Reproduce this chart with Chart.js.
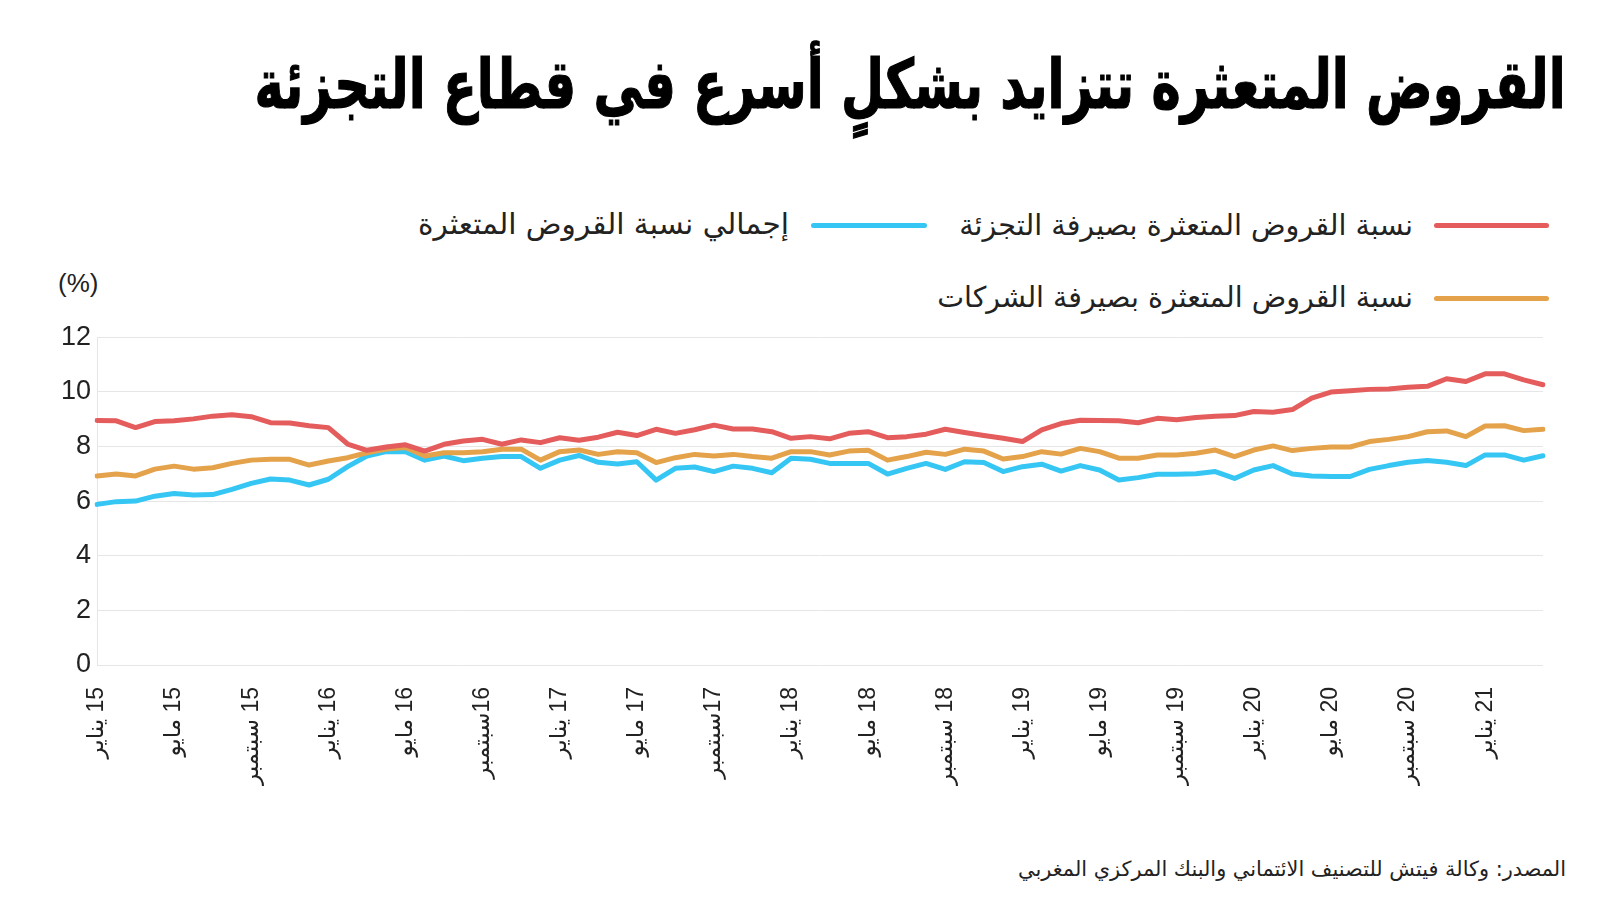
<!DOCTYPE html>
<html lang="ar">
<head>
<meta charset="utf-8">
<title>القروض المتعثرة</title>
<script src="https://cdn.jsdelivr.net/npm/chart.js@4.4.1/dist/chart.umd.min.js"></script>
<style>
  body {
    margin: 0;
    width: 1600px;
    height: 900px;
    position: relative;
    overflow: hidden;
    background: #fff;
    color: #222;
    font-family: "Liberation Sans", "DejaVu Sans", sans-serif;
  }
  .txt {
    position: absolute;
    white-space: nowrap;
    direction: rtl;
    line-height: 1;
    transform: translateY(-50%);
  }
  .title {
    right: 34px; top: 84px;
    font: bold 68px "DejaVu Sans", sans-serif;
    color: #000;
    -webkit-text-stroke: 1.2px #000;
    transform-origin: right center;
  }
  .leg { font-size: 26px; font-family: "DejaVu Sans", sans-serif; }
  .line { position: absolute; height: 5px; border-radius: 3px; }
  .unit { position: absolute; left: 58px; top: 283px; font-size: 26px; line-height: 1; transform: translateY(-50%); }
  .source { right: 34px; top: 869px; font-size: 19px; font-family: "DejaVu Sans", sans-serif; }
  #wrap { position: absolute; left: 0; top: 315px; width: 1600px; height: 485px; }
  canvas { direction: rtl; }
</style>
</head>
<body>
<div class="txt title" id="title">القروض المتعثرة تتزايد بشكلٍ أسرع في قطاع التجزئة</div>

<div class="line" style="left:1434px; top:223px; width:115px; background:#e45c5c"></div>
<div class="txt leg" id="leg1" style="right:187px; top:225px">نسبة القروض المتعثرة بصيرفة التجزئة</div>
<div class="line" style="left:811px; top:223px; width:116px; background:#35c6f4"></div>
<div class="txt leg" id="leg2" style="right:811px; top:225px">إجمالي نسبة القروض المتعثرة</div>
<div class="line" style="left:1434px; top:296px; width:115px; background:#e4a24b"></div>
<div class="txt leg" id="leg3" style="right:187px; top:298px">نسبة القروض المتعثرة بصيرفة الشركات</div>

<div class="unit">(%)</div>

<div id="wrap"><canvas id="chart" width="1600" height="485"></canvas></div>

<div class="txt source" id="source">المصدر: وكالة فيتش للتصنيف الائتماني والبنك المركزي المغربي</div>

<script>
// monthly, Jan 2015 - Apr 2021
const months = [
  "2015-01", "2015-02", "2015-03", "2015-04", "2015-05", "2015-06", "2015-07", "2015-08", "2015-09", "2015-10", "2015-11", "2015-12",
  "2016-01", "2016-02", "2016-03", "2016-04", "2016-05", "2016-06", "2016-07", "2016-08", "2016-09", "2016-10", "2016-11", "2016-12",
  "2017-01", "2017-02", "2017-03", "2017-04", "2017-05", "2017-06", "2017-07", "2017-08", "2017-09", "2017-10", "2017-11", "2017-12",
  "2018-01", "2018-02", "2018-03", "2018-04", "2018-05", "2018-06", "2018-07", "2018-08", "2018-09", "2018-10", "2018-11", "2018-12",
  "2019-01", "2019-02", "2019-03", "2019-04", "2019-05", "2019-06", "2019-07", "2019-08", "2019-09", "2019-10", "2019-11", "2019-12",
  "2020-01", "2020-02", "2020-03", "2020-04", "2020-05", "2020-06", "2020-07", "2020-08", "2020-09", "2020-10", "2020-11", "2020-12",
  "2021-01", "2021-02", "2021-03", "2021-04",
];

// one label every 4 months
const tickLabels = [
  "15 يناير", "15 مايو", "15 سبتمبر",
  "16 يناير", "16 مايو", "16سبتمبر",
  "17 يناير", "17 مايو", "17سبتمبر",
  "18 يناير", "18 مايو", "18 سبتمبر",
  "19 يناير", "19 مايو", "19 سبتمبر",
  "20 يناير", "20 مايو", "20 سبتمبر",
  "21 يناير",
];

const retail = [
  8.95, 8.94, 8.69, 8.91, 8.94, 9.01, 9.11, 9.16, 9.09, 8.87, 8.86, 8.76,
  8.69, 8.09, 7.86, 7.98, 8.06, 7.83, 8.08, 8.20, 8.26, 8.08, 8.24, 8.14,
  8.32, 8.23, 8.34, 8.52, 8.40, 8.63, 8.48, 8.61, 8.78, 8.64, 8.64, 8.54,
  8.30, 8.36, 8.28, 8.48, 8.54, 8.32, 8.36, 8.45, 8.63, 8.51, 8.40, 8.30,
  8.18, 8.61, 8.84, 8.96, 8.95, 8.94, 8.87, 9.03, 8.98, 9.06, 9.11, 9.13,
  9.28, 9.25, 9.35, 9.77, 9.99, 10.04, 10.09, 10.10, 10.17, 10.20, 10.48, 10.38,
  10.66, 10.66, 10.44, 10.26,
];

const total = [
  5.88, 5.98, 6.00, 6.18, 6.28, 6.22, 6.24, 6.43, 6.65, 6.81, 6.77, 6.59,
  6.80, 7.26, 7.65, 7.81, 7.81, 7.50, 7.65, 7.48, 7.57, 7.63, 7.63, 7.20,
  7.50, 7.67, 7.42, 7.36, 7.44, 6.77, 7.20, 7.25, 7.08, 7.28, 7.20, 7.04,
  7.57, 7.53, 7.38, 7.38, 7.38, 6.99, 7.20, 7.38, 7.16, 7.44, 7.41, 7.08,
  7.26, 7.35, 7.10, 7.30, 7.14, 6.77, 6.86, 6.98, 6.98, 7.00, 7.08, 6.83,
  7.14, 7.30, 6.99, 6.92, 6.90, 6.90, 7.16, 7.30, 7.42, 7.49, 7.42, 7.30,
  7.69, 7.69, 7.50, 7.66,
];

const corporate = [
  6.92, 6.99, 6.92, 7.17, 7.28, 7.17, 7.22, 7.38, 7.50, 7.53, 7.53, 7.32,
  7.47, 7.59, 7.77, 7.91, 7.96, 7.65, 7.77, 7.77, 7.81, 7.90, 7.90, 7.50,
  7.81, 7.87, 7.71, 7.81, 7.77, 7.41, 7.59, 7.71, 7.65, 7.71, 7.63, 7.57,
  7.81, 7.81, 7.69, 7.83, 7.86, 7.50, 7.63, 7.79, 7.71, 7.90, 7.83, 7.54,
  7.63, 7.81, 7.72, 7.93, 7.81, 7.57, 7.57, 7.69, 7.69, 7.75, 7.87, 7.63,
  7.87, 8.02, 7.85, 7.93, 7.98, 7.98, 8.18, 8.26, 8.36, 8.54, 8.57, 8.36,
  8.75, 8.76, 8.58, 8.63,
];

// squeeze text to the widths measured on the reference
function fitWidth(id, target) {
  const el = document.getElementById(id);
  const w = el.getBoundingClientRect().width;
  const size = parseFloat(getComputedStyle(el).fontSize);
  el.style.fontSize = (size * target / w).toFixed(2) + "px";
}
fitWidth("leg1", 454);
fitWidth("leg2", 371);
fitWidth("leg3", 476);
fitWidth("source", 548);

// title: keep the tall heavy look, condense horizontally instead
(function () {
  const el = document.getElementById("title");
  const w = el.getBoundingClientRect().width;
  el.style.transform = `translateY(-50%) scaleX(${(1311 / w).toFixed(4)})`;
})();

const line = (label, data, color) => ({
  label,
  data,
  borderColor: color,
  backgroundColor: color,
  borderWidth: 5,
  pointRadius: 0,
  tension: 0,
  borderJoinStyle: "round",
  borderCapStyle: "round",
});

new Chart(document.getElementById("chart"), {
  type: "line",
  data: {
    labels: months,
    datasets: [
      line("نسبة القروض المتعثرة بصيرفة التجزئة", retail, "#e45c5c"),
      line("نسبة القروض المتعثرة بصيرفة الشركات", corporate, "#e4a24b"),
      line("إجمالي نسبة القروض المتعثرة", total, "#35c6f4"),
    ],
  },
  options: {
    responsive: false,
    animation: false,
    layout: { padding: { top: 16, right: 57, left: 0, bottom: 0 } },
    plugins: {
      legend: { display: false },
      tooltip: { enabled: false },
    },
    scales: {
      x: {
        grid: { display: false, drawTicks: false },
        border: { display: false },
        ticks: {
          autoSkip: false,
          minRotation: 90,
          maxRotation: 90,
          padding: 22,
          color: "#222",
          font: { family: '"Liberation Sans", "DejaVu Sans", sans-serif', size: 23 },
          callback: (v, i) => (i % 4 === 0 ? tickLabels[i / 4] : ""),
        },
        afterFit: (s) => { s.height = 135; },
      },
      y: {
        min: 0,
        max: 12,
        grid: { color: "#e6e6e6", drawTicks: false },
        border: { display: true, color: "#e6e6e6" },
        ticks: {
          stepSize: 2,
          padding: 6,
          color: "#222",
          font: { family: '"Liberation Sans", sans-serif', size: 27 },
        },
        afterFit: (s) => { s.width = 97; },
      },
    },
  },
});
</script>
</body>
</html>
